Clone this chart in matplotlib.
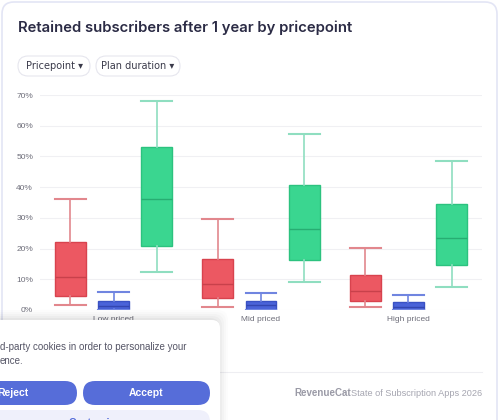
import matplotlib.pyplot as plt
from matplotlib.patches import FancyBboxPatch

# pricepoint groups
groups = ['Low priced', 'Mid priced', 'High priced']
series = ['Red', 'Blue', 'Green']

# box stats per series: (low whisker, q1, median, q3, high whisker) in %
red_low = [1.7, 1.1, 0.9]
red_q1 = [4.7, 3.8, 2.8]
red_med = [10.9, 8.5, 6.2]
red_q3 = [22.0, 16.5, 11.4]
red_high = [36.1, 29.5, 20.1]

blue_low = [0.0, 0.0, 0.0]
blue_q1 = [0.3, 0.1, 0.0]
blue_med = [1.3, 1.5, 1.1]
blue_q3 = [2.8, 3.0, 2.5]
blue_high = [6.0, 5.5, 4.8]

green_low = [12.4, 9.2, 7.5]
green_q1 = [20.7, 16.2, 14.6]
green_med = [36.2, 26.3, 23.4]
green_q3 = [53.2, 40.7, 34.4]
green_high = [68.0, 57.4, 48.5]

yticks = [0, 10, 20, 30, 40, 50, 60, 70]

fig = plt.figure(figsize=(5, 4.2), dpi=100)

# background card
bg = fig.add_axes([0, 0, 1, 1], zorder=0)
bg.set_xlim(0, 500)
bg.set_ylim(420, 0)
bg.axis('off')
bg.add_patch(FancyBboxPatch((2, 2), 495, 430, boxstyle='round,pad=0,rounding_size=12',
                            fc='white', ec='#e3e5f5', lw=1.2))
bg.text(18, 28, 'Retained subscribers after 1 year by pricepoint', fontsize=10.7,
        family='Inter', color='#2b2b45', va='center', fontweight='semibold')
for x0, w, label in [(18, 72, 'Pricepoint ▾'), (96, 84, 'Plan duration ▾')]:
    bg.add_patch(FancyBboxPatch((x0, 56), w, 20, boxstyle='round,pad=0,rounding_size=10',
                                fc='white', ec='#e6e6ee', lw=0.8))
    bg.text(x0 + w / 2, 66, label, fontsize=7, family='DejaVu Sans', color='#3a3a4a',
            ha='center', va='center')
bg.plot([40, 482], [372, 372], color='#eeeef2', lw=0.8)
bg.text(294, 393, 'RevenueCat', fontsize=7, color='#9a9aa6', fontweight='bold',
        family='Liberation Sans', va='center')
bg.text(482, 393, 'State of Subscription Apps 2026', fontsize=6.6, color='#a5a5b0',
        family='Liberation Sans', va='center', ha='right')

# chart
ax = fig.add_axes([40 / 500, 1 - 310 / 420, 442 / 500, 215 / 420], zorder=1)
ax.patch.set_alpha(0)

styles = {
    'Red': ('#ec5862', '#d8434e', '#c8414b', '#e2878d'),
    'Blue': ('#4a63d9', '#3a52c4', '#3346b0', '#7085e0'),
    'Green': ('#3ad690', '#2cc27f', '#27ad72', '#8fdec0'),
}
data = {
    'Red': (red_low, red_q1, red_med, red_q3, red_high),
    'Blue': (blue_low, blue_q1, blue_med, blue_q3, blue_high),
    'Green': (green_low, green_q1, green_med, green_q3, green_high),
}
offsets = [-0.293, 0, 0.293]
width = 0.21
for name, off in zip(series, offsets):
    lo, q1, med, q3, hi = data[name]
    stats = [dict(whislo=lo[i], q1=q1[i], med=med[i], q3=q3[i], whishi=hi[i])
             for i in range(len(groups))]
    face, edge, medc, whisc = styles[name]
    ax.bxp(stats, positions=[i + off for i in range(len(groups))], widths=width,
           capwidths=width, showfliers=False, patch_artist=True, manage_ticks=False,
           boxprops=dict(facecolor=face, edgecolor=edge, lw=1),
           medianprops=dict(color=medc, lw=1),
           whiskerprops=dict(color=whisc, lw=1.2),
           capprops=dict(color=whisc, lw=1.5))

ax.set_xlim(-0.5, 2.5)
ax.set_ylim(0, 70)
ax.set_yticks(yticks)
ax.set_yticklabels([f'{t}%' for t in yticks])
ax.set_xticks(range(len(groups)))
ax.set_xticklabels(groups)
ax.tick_params(length=0, labelsize=6, labelcolor='#6e6e7a', pad=5)
ax.tick_params(axis='x', pad=4)
ax.grid(axis='y', color='#f0f0f3', lw=0.8)
ax.set_axisbelow(True)
for s in ax.spines.values():
    s.set_visible(False)
for lab in ax.get_xticklabels() + ax.get_yticklabels():
    lab.set_family('Liberation Sans')

# cookie banner overlay
fg = fig.add_axes([0, 0, 1, 1], zorder=5)
fg.set_xlim(0, 500)
fg.set_ylim(420, 0)
fg.axis('off')
for i, a in enumerate([0.03, 0.025, 0.02, 0.015, 0.01]):
    fg.add_patch(FancyBboxPatch((-20, 318 - i * 2), 240 + i * 2, 120,
                                boxstyle='round,pad=0,rounding_size=10',
                                fc='#000000', ec='none', alpha=a))
fg.add_patch(FancyBboxPatch((-20, 320), 240, 120, boxstyle='round,pad=0,rounding_size=8',
                            fc='white', ec='none'))
fg.text(0, 347, 'd-party cookies in order to personalize your', fontsize=7,
        color='#555566', va='center', family='Liberation Sans')
fg.text(0, 361, 'ence.', fontsize=7, color='#555566', va='center', family='Liberation Sans')
fg.add_patch(FancyBboxPatch((-30, 381), 107, 24, boxstyle='round,pad=0,rounding_size=12',
                            fc='#566dd9', ec='none'))
fg.text(13, 393, 'Reject', fontsize=7.5, color='white', fontweight='bold', ha='center',
        va='center', family='Liberation Sans')
fg.add_patch(FancyBboxPatch((83, 381), 127, 24, boxstyle='round,pad=0,rounding_size=12',
                            fc='#566dd9', ec='none'))
fg.text(146, 393, 'Accept', fontsize=7.5, color='white', fontweight='bold', ha='center',
        va='center', family='Liberation Sans')
fg.add_patch(FancyBboxPatch((-30, 410), 240, 24, boxstyle='round,pad=0,rounding_size=12',
                            fc='#eff0fb', ec='none'))
fg.text(95, 423, 'Customize', fontsize=7.5, color='#566dd9', fontweight='bold', ha='center',
        va='center', family='Liberation Sans', clip_on=True)

fig.savefig('out.png', dpi=100)
